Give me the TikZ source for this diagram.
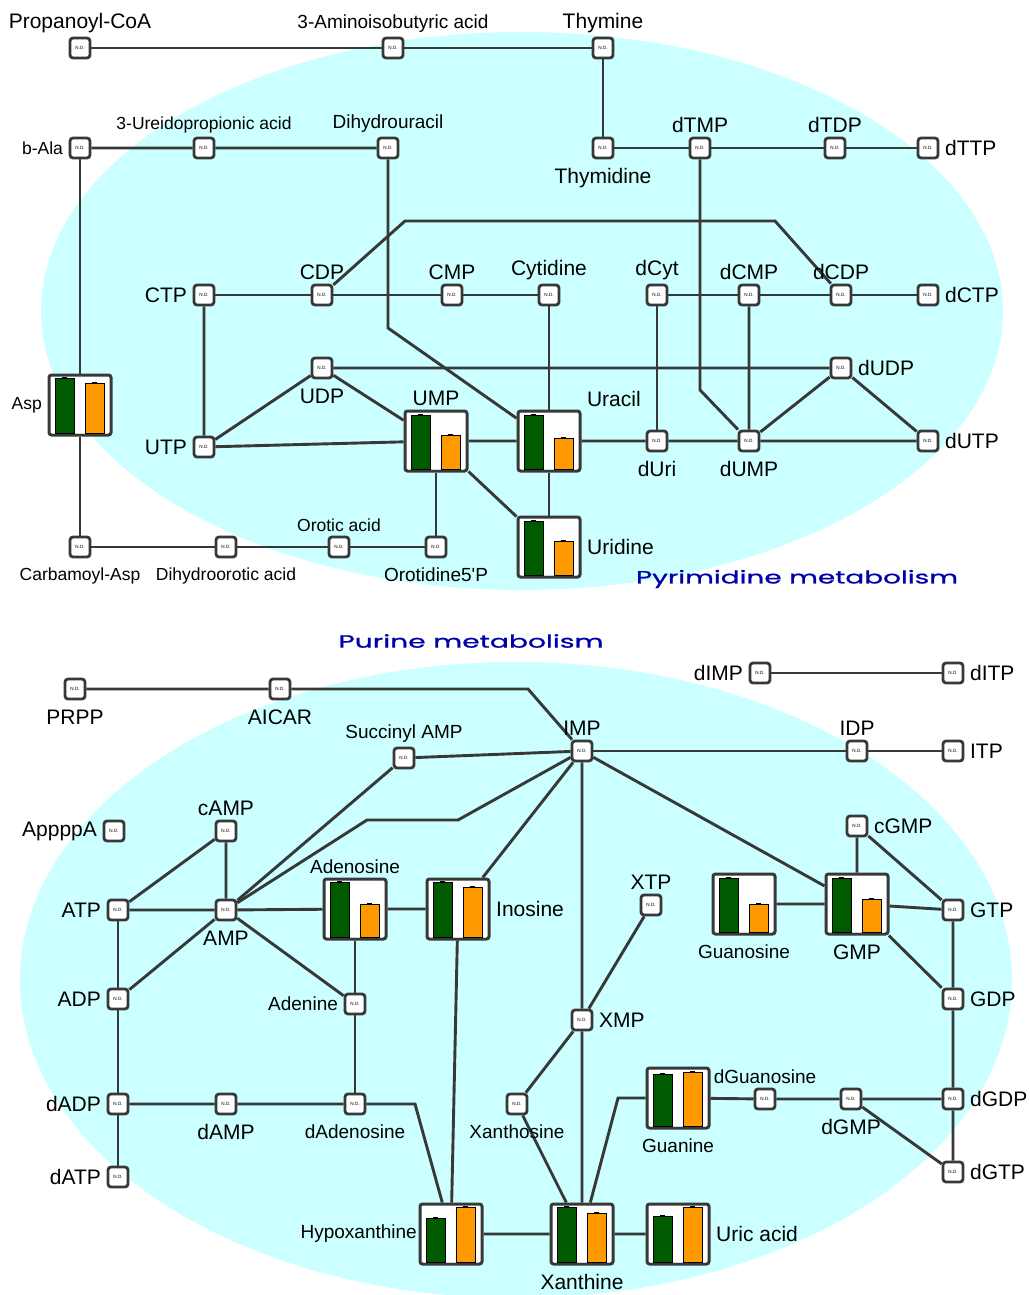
\documentclass[tikz,border=0pt]{standalone}
\usepackage{fontspec}
\usepackage{graphicx}
\setmainfont{Liberation Sans}
\newfontfamily\titlefont{Poppins}[FakeBold=0.8]
\usetikzlibrary{backgrounds}
\definecolor{lncol}{HTML}{383838}
\definecolor{pathbg}{HTML}{CCFFFF}
\definecolor{grbar}{HTML}{005A00}
\definecolor{orbar}{HTML}{FF9900}
\definecolor{ttlblue}{HTML}{0000A8}
\newcommand{\measbars}[3]{%
  \begin{scope}[shift={(#1)}]
    \draw[gray!35,line width=1.2pt] (-28,28.5) -- (28,28.5);
    \filldraw[fill=grbar,draw=black,line width=0.8pt] (-25,28) rectangle (-6,{28-#2});
    \filldraw[fill=orbar,draw=black,line width=0.8pt] (5,28) rectangle (24,{28-#3});
    \draw[black,line width=1.2pt] (-18,{28-#2}) -- (-13,{28-#2}) (12,{28-#3}) -- (17,{28-#3});
  \end{scope}}

\begin{document}
\begin{tikzpicture}[x=1pt,y=-1pt,
    ndbox/.style={rectangle,rounded corners=3pt,draw=lncol,line width=2.8pt,fill=white,
      minimum size=20pt,inner sep=0pt,font=\fontsize{4.6}{5}\selectfont},
    barbox/.style={rectangle,rounded corners=2.5pt,draw=lncol,line width=3pt,fill=white,
      minimum width=62pt,minimum height=60pt},
    lbig/.style={font=\fontsize{21}{21}\selectfont},
    lmid/.style={font=\fontsize{19}{19}\selectfont},
    lsml/.style={font=\fontsize{17.5}{17.5}\selectfont},
    lbhi/.style={yshift=-2pt},
    lblo/.style={yshift=-3.5pt},
    every label/.style={inner sep=1.5pt},label distance=4pt,
    rxn/.style={draw=lncol,line width=2.9pt}]
  \useasboundingbox (0,0) rectangle (1030,1295);

  \node[ndbox,label={[lbig,lbhi]above:Propanoyl-CoA}] (propcoa) at (80,48) {N.D.};
  \node[ndbox,label={[lmid,lbhi]above:3-Aminoisobutyric acid}] (aminoiso) at (393,48) {N.D.};
  \node[ndbox,label={[lbig,lbhi]above:Thymine}] (thymine) at (603,48) {N.D.};
  \node[ndbox,label={[lsml]left:b-Ala}] (bala) at (80,148) {N.D.};
  \node[ndbox,label={[lsml,lbhi]above:3-Ureidopropionic acid}] (ureido) at (204,148) {N.D.};
  \node[ndbox,label={[lmid,lbhi]above:Dihydrouracil}] (dihydroura) at (388,148) {N.D.};
  \node[ndbox,label={[lbig,lblo]below:Thymidine}] (thymidine) at (603,148) {N.D.};
  \node[ndbox,label={[lbig,lbhi]above:dTMP}] (dtmp) at (700,148) {N.D.};
  \node[ndbox,label={[lbig,lbhi]above:dTDP}] (dtdp) at (835,148) {N.D.};
  \node[ndbox,label={[lbig]right:dTTP}] (dttp) at (928,148) {N.D.};
  \node[ndbox,label={[lbig]left:CTP}] (ctp) at (204,295) {N.D.};
  \node[ndbox,label={[lbig,lbhi]above:CDP}] (cdp) at (322,295) {N.D.};
  \node[ndbox,label={[lbig,lbhi]above:CMP}] (cmp) at (452,295) {N.D.};
  \node[ndbox,label={[lbig,lbhi]above:Cytidine}] (cytidine) at (549,295) {N.D.};
  \node[ndbox,label={[lbig,lbhi]above:dCyt}] (dcyt) at (657,295) {N.D.};
  \node[ndbox,label={[lbig,lbhi]above:dCMP}] (dcmp) at (749,295) {N.D.};
  \node[ndbox,label={[lbig,lbhi]above:dCDP}] (dcdp) at (841,295) {N.D.};
  \node[ndbox,label={[lbig]right:dCTP}] (dctp) at (928,295) {N.D.};
  \node[ndbox,label={[lbig,lblo]below:UDP}] (udp) at (322,368) {N.D.};
  \node[ndbox,label={[lbig]right:dUDP}] (dudp) at (841,368) {N.D.};
  \node[barbox,label={[lsml]left:Asp}] (asp) at (80,405) {};
  \node[ndbox,label={[lbig]left:UTP}] (utp) at (204,447) {N.D.};
  \node[barbox,label={[lbig,lbhi]above:UMP}] (ump) at (436,441) {};
  \node[barbox,label={[lbig,lbhi,xshift=2pt]above right:Uracil}] (uracil) at (549,441) {};
  \node[ndbox,label={[lbig,lblo]below:dUri}] (duri) at (657,441) {N.D.};
  \node[ndbox,label={[lbig,lblo]below:dUMP}] (dump) at (749,441) {N.D.};
  \node[ndbox,label={[lbig]right:dUTP}] (dutp) at (928,441) {N.D.};
  \node[barbox,label={[lbig]right:Uridine}] (uridine) at (549,547) {};
  \node[ndbox,label={[lsml,lblo]below:Carbamoyl-Asp}] (carbasp) at (80,547) {N.D.};
  \node[ndbox,label={[lsml,lblo]below:Dihydroorotic acid}] (dhoro) at (226,547) {N.D.};
  \node[ndbox,label={[lsml,lbhi]above:Orotic acid}] (orotic) at (339,547) {N.D.};
  \node[ndbox,label={[lmid,lblo]below:Orotidine5\textquotesingle P}] (orotidine) at (436,547) {N.D.};
  \node[text=ttlblue,font=\titlefont] (pyrtitle) at (797,579) {\resizebox{322pt}{13.5pt}{Pyrimidine metabolism}};

  \node[text=ttlblue,font=\titlefont] (purtitle) at (471,641) {\resizebox{265pt}{13.5pt}{Purine metabolism}};
  \node[ndbox,label={[lbig,lblo]below:PRPP}] (prpp) at (75,689) {N.D.};
  \node[ndbox,label={[lbig,lblo]below:AICAR}] (aicar) at (280,689) {N.D.};
  \node[ndbox,label={[lbig]left:dIMP}] (dimp) at (760,673) {N.D.};
  \node[ndbox,label={[lbig]right:dITP}] (ditp) at (953,673) {N.D.};
  \node[ndbox,label={[lbig,lbhi]above:IMP}] (imp) at (582,751) {N.D.};
  \node[ndbox,label={[lbig,lbhi]above:IDP}] (idp) at (857,751) {N.D.};
  \node[ndbox,label={[lbig]right:ITP}] (itp) at (953,751) {N.D.};
  \node[ndbox,label={[lmid,lbhi]above:Succinyl AMP}] (succamp) at (404,758) {N.D.};
  \node[ndbox,label={[lbig]left:AppppA}] (appppa) at (114,831) {N.D.};
  \node[ndbox,label={[lbig,lbhi]above:cAMP}] (camp) at (226,831) {N.D.};
  \node[ndbox,label={[lbig]right:cGMP}] (cgmp) at (857,826) {N.D.};
  \node[ndbox,label={[lbig]left:ATP}] (atp) at (118,910) {N.D.};
  \node[ndbox,label={[lbig,lblo]below:AMP}] (amp) at (226,910) {N.D.};
  \node[barbox,label={[lmid,lbhi]above:Adenosine}] (adenosine) at (355,909) {};
  \node[barbox,label={[lbig]right:Inosine}] (inosine) at (458,909) {};
  \node[ndbox,label={[lbig,lbhi]above:XTP}] (xtp) at (651,905) {N.D.};
  \node[barbox,label={[lmid,lblo]below:Guanosine}] (guanosine) at (744,904) {};
  \node[barbox,label={[lbig,lblo]below:GMP}] (gmp) at (857,904) {};
  \node[ndbox,label={[lbig]right:GTP}] (gtp) at (953,910) {N.D.};
  \node[ndbox,label={[lbig]left:ADP}] (adp) at (118,999) {N.D.};
  \node[ndbox,label={[lmid]left:Adenine}] (adenine) at (355,1004) {N.D.};
  \node[ndbox,label={[lbig]right:XMP}] (xmp) at (582,1020) {N.D.};
  \node[ndbox,label={[lbig]right:GDP}] (gdp) at (953,999) {N.D.};
  \node[ndbox,label={[lbig]left:dADP}] (dadp) at (118,1104) {N.D.};
  \node[ndbox,label={[lbig,lblo]below:dAMP}] (damp) at (226,1104) {N.D.};
  \node[ndbox,label={[lmid,lblo]below:dAdenosine}] (dadenosine) at (355,1104) {N.D.};
  \node[ndbox,label={[lmid,lblo]below:Xanthosine}] (xanthosine) at (517,1104) {N.D.};
  \node[barbox,label={[lmid,lblo]below:Guanine}] (guanine) at (678,1098) {};
  \node[ndbox,label={[lmid,lbhi]above:dGuanosine}] (dguanosine) at (765,1099) {N.D.};
  \node[ndbox,label={[lbig,lblo]below:dGMP}] (dgmp) at (851,1099) {N.D.};
  \node[ndbox,label={[lbig]right:dGDP}] (dgdp) at (953,1099) {N.D.};
  \node[ndbox,label={[lbig]left:dATP}] (datp) at (118,1177) {N.D.};
  \node[ndbox,label={[lbig]right:dGTP}] (dgtp) at (953,1172) {N.D.};
  \node[barbox,label={[lmid,label distance=0pt]left:Hypoxanthine}] (hypox) at (451,1234) {};
  \node[barbox,label={[lbig,lblo]below:Xanthine}] (xanthine) at (582,1234) {};
  \node[barbox,label={[lbig]right:Uric acid}] (uricacid) at (678,1234) {};

  \measbars{asp}{55}{50}
  \measbars{ump}{54}{34}
  \measbars{uracil}{54}{31}
  \measbars{uridine}{54}{34}
  \measbars{adenosine}{55}{33}
  \measbars{inosine}{55}{50}
  \measbars{guanosine}{54}{28}
  \measbars{gmp}{54}{33}
  \measbars{guanine}{52}{54}
  \measbars{hypox}{44}{55}
  \measbars{xanthine}{55}{49}
  \measbars{uricacid}{46}{55}

  \begin{pgfonlayer}{background}
    \fill[pathbg] (522,311) ellipse [x radius=481,y radius=279];
    \fill[pathbg] (516,980) ellipse [x radius=496,y radius=318];

    \draw[rxn] (propcoa) -- (aminoiso) -- (thymine) -- (thymidine) -- (dtmp) -- (dtdp) -- (dttp);
    \draw[rxn] (bala) -- (ureido) -- (dihydroura) -- (388,328) -- (uracil);
    \draw[rxn] (bala) -- (asp) -- (carbasp) -- (dhoro) -- (orotic) -- (orotidine) -- (ump);
    \draw[rxn] (dtmp) -- (700,390) -- (dump);
    \draw[rxn] (ctp) -- (cdp) -- (cmp) -- (cytidine) -- (uracil) -- (uridine);
    \draw[rxn] (cdp) -- (405,221) -- (775,221) -- (dcdp);
    \draw[rxn] (dcyt) -- (dcmp) -- (dcdp) -- (dctp);
    \draw[rxn] (ctp) -- (utp) -- (udp) -- (ump) -- (uridine);
    \draw[rxn] (udp) -- (dudp) -- (dutp) -- (dump) -- (duri) -- (uracil) -- (ump) -- (utp);
    \draw[rxn] (dcyt) -- (duri);
    \draw[rxn] (dcmp) -- (dump) -- (dudp);

    \draw[rxn] (prpp) -- (aicar) -- (528,689) -- (imp);
    \draw[rxn] (dimp) -- (ditp);
    \draw[rxn] (imp) -- (idp) -- (itp);
    \draw[rxn] (amp) -- (succamp) -- (imp) -- (xmp) -- (xanthine);
    \draw[rxn] (amp) -- (367,820) -- (458,820) -- (imp);
    \draw[rxn] (inosine) -- (imp) -- (gmp);
    \draw[rxn] (atp) -- (camp) -- (amp);
    \draw[rxn] (atp) -- (amp) -- (adenosine) -- (inosine);
    \draw[rxn] (atp) -- (adp) -- (dadp) -- (datp);
    \draw[rxn] (adp) -- (amp) -- (adenine);
    \draw[rxn] (adenosine) -- (adenine) -- (dadenosine);
    \draw[rxn] (dadp) -- (damp) -- (dadenosine) -- (415,1104) -- (hypox);
    \draw[rxn] (inosine) -- (hypox) -- (xanthine) -- (uricacid);
    \draw[rxn] (xtp) -- (xmp) -- (xanthosine) -- (xanthine);
    \draw[rxn] (guanine) -- (618,1098) -- (xanthine);
    \draw[rxn] (guanine) -- (dguanosine) -- (dgmp) -- (dgdp);
    \draw[rxn] (dgmp) -- (dgtp);
    \draw[rxn] (guanosine) -- (gmp) -- (gtp) -- (gdp) -- (dgdp) -- (dgtp);
    \draw[rxn] (cgmp) -- (gmp) -- (gdp);
    \draw[rxn] (cgmp) -- (gtp);
  \end{pgfonlayer}
\end{tikzpicture}
\end{document}
